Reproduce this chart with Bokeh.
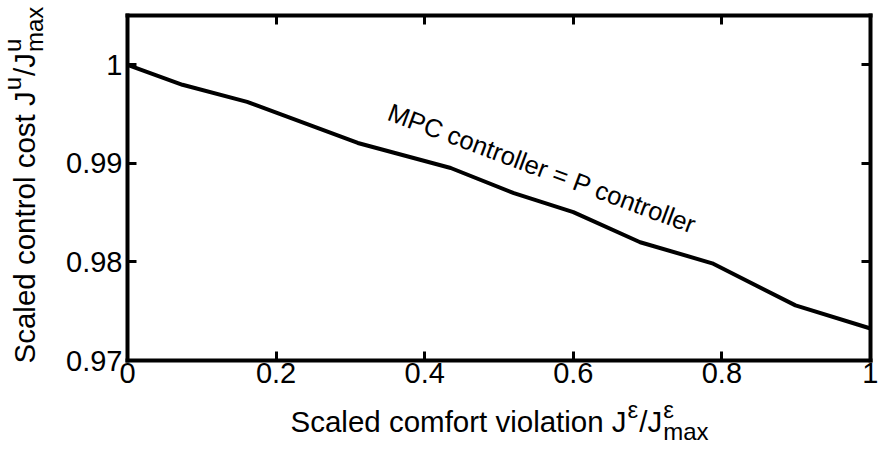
import math
from bokeh.plotting import figure
from bokeh.models import Range1d, LinearAxis, FixedTicker, Label
from bokeh.embed import file_html
from bokeh.resources import INLINE

# ---- data ----
x_violation = [0.0, 0.074, 0.161, 0.310, 0.435, 0.520, 0.600, 0.690, 0.787, 0.899, 1.0]
y_cost = [1.0, 0.99797, 0.99624, 0.99207, 0.98953, 0.98698, 0.98505, 0.98200, 0.97986, 0.97559, 0.97325]
x_ticks = [0, 0.2, 0.4, 0.6, 0.8, 1.0]
x_tick_labels = ["0", "0.2", "0.4", "0.6", "0.8", "1"]
y_ticks = [0.97, 0.98, 0.99, 1.0]
y_tick_labels = ["0.97", "0.98", "0.99", "1"]
annotation = "MPC controller = P controller"
annotation_pos = (0.352, 0.99530)

X0, X1 = 0.0, 1.0
Y0, Y1 = 0.97, 1.005
FONT = "Liberation Sans"
TICK = 29
MAIN = 29.5
SMALL = 24

# canvas and axes-box geometry (px)
CW, CH = 878, 452
FL, FR, FT, FB = 127, 870, 15, 360
PX_X = (FR - FL) / (X1 - X0)
PX_Y = (FB - FT) / (Y1 - Y0)

# Arial/Liberation advance widths (1/1000 em) for title layout
W = {' ': 278, 'S': 667, 'c': 500, 'a': 556, 'l': 222, 'e': 556, 'd': 556, 'o': 556,
     'm': 833, 'f': 278, 'r': 333, 't': 278, 'v': 500, 'i': 222, 'n': 556, 'J': 500,
     '/': 278, 's': 500, 'x': 500, 'u': 556, 'ε': 446}


def tw(s, size):
    return sum(W.get(ch, 556) for ch in s) * size / 1000.0


# the plotting frame spans the whole canvas; the box axes sit at fixed data locations
p = figure(width=CW, height=CH, output_backend="svg", toolbar_location=None,
           x_range=Range1d(X0 - FL / PX_X, X0 + (CW - FL) / PX_X),
           y_range=Range1d(Y0 - (CH - FB) / PX_Y, Y0 + FB / PX_Y),
           min_border=0, x_axis_location=None, y_axis_location=None)
p.background_fill_color = "white"
p.border_fill_color = "white"
p.outline_line_color = None
p.grid.visible = False


def make_axis(ticks, labels, loc, bounds, show_labels):
    ax = LinearAxis(ticker=FixedTicker(ticks=ticks), fixed_location=loc, bounds=bounds)
    ax.major_label_overrides = {t: l for t, l in zip(ticks, labels)}
    ax.axis_line_width = 4
    ax.axis_line_color = "black"
    ax.axis_line_cap = "square"
    ax.major_tick_in = 9
    ax.major_tick_out = 0
    ax.major_tick_line_width = 3
    ax.major_tick_line_color = "black"
    ax.minor_tick_line_color = None
    ax.major_label_text_font = FONT
    ax.major_label_text_font_size = f"{TICK}px" if show_labels else "0px"
    ax.major_label_text_color = "black" if show_labels else None
    return ax


bottom_axis = make_axis(x_ticks, x_tick_labels, Y0, (X0, X1), True)
top_axis = make_axis(x_ticks, x_tick_labels, Y1, (X0, X1), False)
left_axis = make_axis(y_ticks, y_tick_labels, X0, (Y0, Y1), True)
right_axis = make_axis(y_ticks, y_tick_labels, X1, (Y0, Y1), False)
bottom_axis.major_label_standoff = 2
left_axis.major_label_standoff = 5
p.add_layout(bottom_axis, "below")
p.add_layout(top_axis, "above")
p.add_layout(left_axis, "left")
p.add_layout(right_axis, "right")

p.line(x_violation, y_cost, line_width=4, line_color="black")

p.add_layout(Label(x=annotation_pos[0], y=annotation_pos[1], text=annotation,
                   angle=-20.5, angle_units="deg", text_font=FONT, text_font_size="25.5px",
                   text_color="black", text_baseline="alphabetic", text_align="left"))


def lab(cx, cy, text, size, angle=0.0):
    """place a title piece at canvas pixel (cx, cy) via data coordinates"""
    dx = X0 + (cx - FL) / PX_X
    dy = Y0 + (FB - cy) / PX_Y
    p.add_layout(Label(x=dx, y=dy, text=text, angle=angle, text_font=FONT,
                       text_font_size=f"{size}px", text_color="black",
                       text_baseline="alphabetic", text_align="left"))


RAISE, DROP = 12, 10

# ---- x axis title: Scaled comfort violation J^ε/J^ε_max ----
bx, by = 290, 421
s1 = "Scaled comfort violation J"
lab(bx, by, s1, MAIN)
cx = bx + tw(s1, MAIN) + 1
lab(cx, by - RAISE, "ε", SMALL)
cx += tw("ε", SMALL) + 1
lab(cx, by, "/J", MAIN)
cx += tw("/J", MAIN) + 1
lab(cx, by - RAISE, "ε", SMALL)
lab(cx, by + DROP, "max", SMALL)

# ---- y axis title: Scaled control cost J^u/J^u_max (rotated) ----
bx, by = 24, 363
r = math.pi / 2
s2 = "Scaled control cost J"
lab(bx, by, s2, MAIN, r)
cy = by - tw(s2, MAIN) - 1
lab(bx - RAISE, cy, "u", SMALL, r)
cy -= tw("u", SMALL) + 1
lab(bx, cy, "/J", MAIN, r)
cy -= tw("/J", MAIN) + 1
lab(bx - RAISE, cy, "u", SMALL, r)
lab(bx + DROP, cy, "max", SMALL, r)

open("out.html", "w").write(file_html(p, INLINE))
